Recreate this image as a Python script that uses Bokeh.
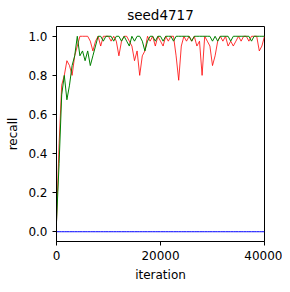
from bokeh.plotting import figure
from bokeh.models import FixedTicker, Range1d, PrintfTickFormatter
from bokeh.embed import file_html
from bokeh.resources import INLINE

iterations = list(range(0, 40001, 500))
red_recall = [0.05, 0.45, 0.75, 0.80, 0.875, 0.85, 0.80, 0.90, 0.95, 1.0,
              1.0, 1.0, 1.0, 0.975, 0.925, 0.975, 1.0, 0.95, 1.0, 1.0,
              1.0, 0.975, 1.0, 0.975, 0.9, 0.975, 1.0, 1.0, 0.975, 0.95,
              0.875, 0.925, 0.8, 0.9, 0.925, 1.0, 0.975, 1.0, 0.95, 1.0,
              0.975, 0.95, 1.0, 0.975, 1.0, 1.0, 0.9, 0.775, 0.95, 1.0,
              0.975, 1.0, 0.975, 1.0, 0.95, 0.975, 0.8, 1.0, 0.975, 0.95,
              0.85, 0.9, 0.975, 1.0, 0.975, 1.0, 0.95, 0.975, 0.95, 0.975,
              1.0, 0.975, 1.0, 1.0, 0.975, 1.0, 1.0, 1.0, 0.925, 0.95, 1.0]
green_recall = [0.05, 0.35, 0.70, 0.80, 0.675, 0.75, 0.85, 0.90, 1.0, 0.90,
                0.925, 0.875, 0.925, 0.85, 0.90, 0.95, 1.0, 1.0, 0.975, 1.0,
                1.0, 1.0, 0.975, 1.0, 1.0, 0.975, 1.0, 0.975, 0.95, 1.0,
                0.975, 1.0, 1.0, 0.975, 0.925, 0.975, 1.0, 1.0, 0.975, 1.0,
                1.0, 0.975, 1.0, 1.0, 1.0, 0.975, 1.0, 1.0, 1.0, 1.0,
                1.0, 1.0, 0.975, 1.0, 1.0, 1.0, 1.0, 1.0, 1.0, 1.0,
                0.975, 1.0, 0.975, 1.0, 1.0, 1.0, 1.0, 0.975, 1.0, 1.0,
                1.0, 1.0, 1.0, 1.0, 1.0, 0.975, 1.0, 1.0, 1.0, 1.0, 1.0]
blue_recall = [0.0] * len(iterations)
x_ticks = [0, 20000, 40000]
y_ticks = [0.0, 0.2, 0.4, 0.6, 0.8, 1.0]

p = figure(width=282, height=284, output_backend="svg", toolbar_location=None,
           x_range=Range1d(0, 40000), y_range=Range1d(-0.05, 1.05),
           title="seed4717", min_border_left=56, min_border_right=18,
           min_border_top=10, min_border_bottom=39)
p.line(iterations, red_recall, color="red", line_width=1, alpha=0.8)
p.line(iterations, green_recall, color="green", line_width=1)
p.line(iterations, blue_recall, color="blue", line_width=1)

font = "DejaVu Sans"
p.title.align = "center"
p.title.text_font = font
p.title.text_font_size = "13.5px"
p.title.text_font_style = "normal"
p.title.text_color = "black"
p.title.standoff = 8
p.xgrid.visible = False
p.ygrid.visible = False
p.outline_line_color = "black"
p.outline_line_alpha = 1
p.xaxis.ticker = FixedTicker(ticks=x_ticks)
p.yaxis.ticker = FixedTicker(ticks=y_ticks)
p.yaxis.formatter = PrintfTickFormatter(format="%.1f")
p.xaxis.axis_label = "iteration"
p.yaxis.axis_label = "recall"
for ax in (p.xaxis, p.yaxis):
    ax.axis_label_text_font = font
    ax.axis_label_text_font_size = "12px"
    ax.axis_label_text_font_style = "normal"
    ax.axis_label_text_color = "black"
    ax.major_label_text_font = font
    ax.major_label_text_font_size = "12px"
    ax.major_label_text_color = "black"
    ax.minor_tick_line_color = None
    ax.major_tick_in = 0
    ax.major_tick_out = 4
    ax.major_tick_line_color = "black"
    ax.axis_line_color = "black"

open("out.html", "w").write(file_html(p, INLINE))
